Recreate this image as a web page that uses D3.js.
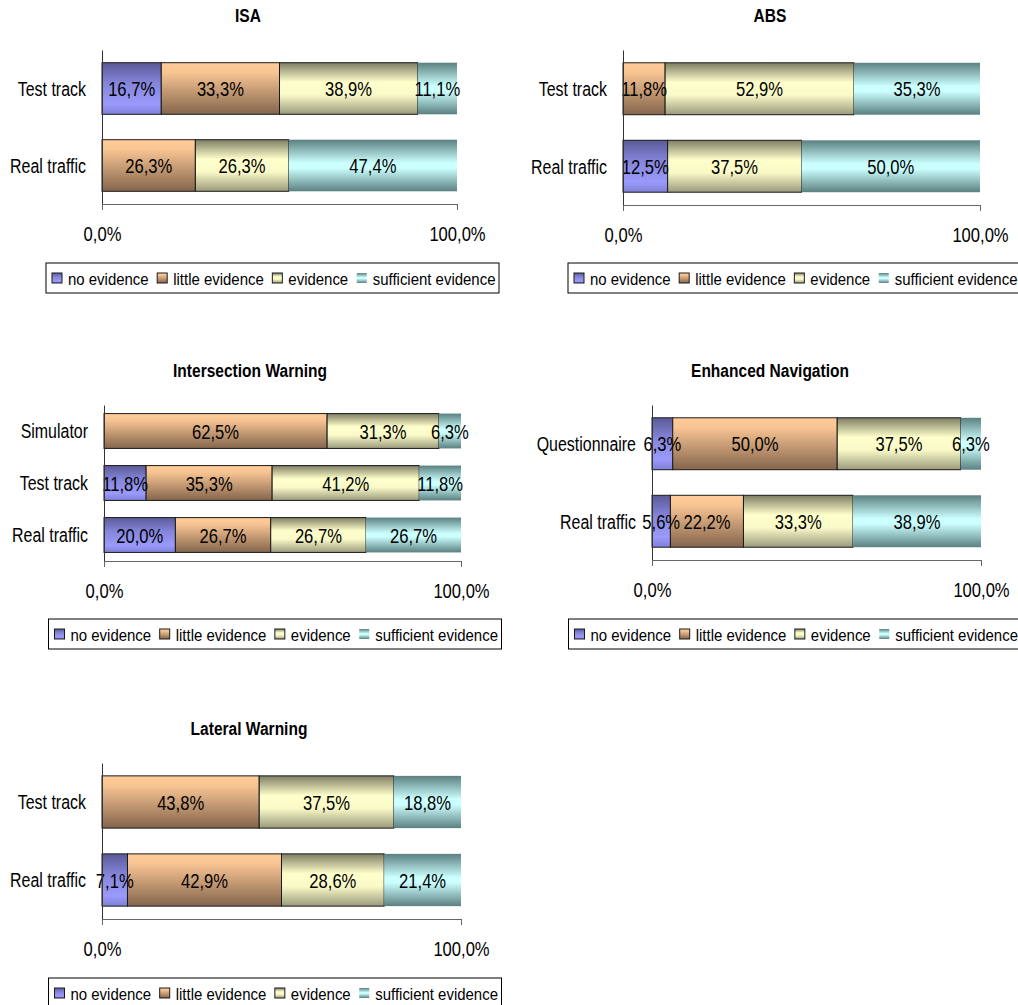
<!DOCTYPE html>
<html>
<head>
<meta charset="utf-8">
<script src="https://cdn.jsdelivr.net/npm/d3@7"></script>
<style>
  body { margin: 0; background: #fff; }
  svg { display: block; }
  text { font-family: Arial, "Liberation Sans", sans-serif; fill: #000; }
</style>
</head>
<body>
<svg id="chart" width="1018" height="1005"></svg>
<script>
// Series (stack order, left to right) and axis ticks
const seriesNames = ["no evidence", "little evidence", "evidence", "sufficient evidence"];
const tickValues = [0, 100];
const tickLabels = ["0,0%", "100,0%"];

// Per-system evidence shares (%), one row per evaluation setting
const isaCategories = ["Test track", "Real traffic"];
const isaValues = [[16.7, 33.3, 38.9, 11.1], [0, 26.3, 26.3, 47.4]];

const absCategories = ["Test track", "Real traffic"];
const absValues = [[0, 11.8, 52.9, 35.3], [12.5, 0, 37.5, 50.0]];

const iwCategories = ["Simulator", "Test track", "Real traffic"];
const iwValues = [[0, 62.5, 31.3, 6.3], [11.8, 35.3, 41.2, 11.8], [20.0, 26.7, 26.7, 26.7]];

const enCategories = ["Questionnaire", "Real traffic"];
const enValues = [[6.3, 50.0, 37.5, 6.3], [5.6, 22.2, 33.3, 38.9]];

const lwCategories = ["Test track", "Real traffic"];
const lwValues = [[0, 43.8, 37.5, 18.8], [7.1, 42.9, 28.6, 21.4]];

// Panel placement on the page
const panels = [
  { title: "ISA", cats: isaCategories, vals: isaValues,
    left: 102, right: 457, top: 50, bottom: 204, titleX: 248, legendX: 46, legendY: 263 },
  { title: "ABS", cats: absCategories, vals: absValues,
    left: 623, right: 980, top: 50, bottom: 205, titleX: 770, legendX: 568, legendY: 263 },
  { title: "Intersection Warning", cats: iwCategories, vals: iwValues,
    left: 104, right: 461, top: 405, bottom: 561, titleX: 250, legendX: 48.5, legendY: 619 },
  { title: "Enhanced Navigation", cats: enCategories, vals: enValues,
    left: 652, right: 981, top: 405, bottom: 560, titleX: 770, legendX: 568.5, legendY: 619 },
  { title: "Lateral Warning", cats: lwCategories, vals: lwValues,
    left: 102, right: 461, top: 763, bottom: 919, titleX: 249, legendX: 48.5, legendY: 978 }
];

// Vertical shading for each series
const gradients = [
  { stops: [[0, "#5a5a98"], [0.4, "#8585da"], [0.8, "#9a9afc"], [1, "#8080d8"]], stroke: "#1a1a1a" },
  { stops: [[0, "#ffcc99"], [0.2, "#f6c392"], [1, "#84654c"]], stroke: "#1a1a1a" },
  { stops: [[0, "#7e7e64"], [0.38, "#ffffcc"], [0.62, "#fafac8"], [1, "#9a9a7c"]], stroke: "#1a1a1a" },
  { stops: [[0, "#5b8080"], [0.45, "#ccffff"], [0.55, "#ccffff"], [1, "#5b8080"]], stroke: "none" }
];

const svg = d3.select("#chart");
const defs = svg.append("defs");
gradients.forEach((g, i) => {
  const lg = defs.append("linearGradient")
    .attr("id", "grad" + i)
    .attr("x1", 0).attr("y1", 0).attr("x2", 0).attr("y2", 1);
  g.stops.forEach(s => lg.append("stop").attr("offset", s[0]).attr("stop-color", s[1]));
});

// Text in this chart is set in a narrow face: draw it compressed horizontally
function squeeze(sel, sx) {
  sel.each(function () {
    const t = d3.select(this);
    const x = +t.attr("x") || 0;
    const y = +t.attr("y") || 0;
    t.attr("x", 0).attr("y", 0)
     .attr("transform", `translate(${x},${y}) scale(${sx},1)`);
  });
}

const fmt = v => d3.format(".1f")(v).replace(".", ",") + "%";
const stack = d3.stack().keys([0, 1, 2, 3]).value((d, k) => d[k]);

panels.forEach(p => {
  const g = svg.append("g");

  const x = d3.scaleLinear().domain([0, 100]).range([p.left, p.right]);
  const y = d3.scaleBand().domain(p.cats).range([p.top, p.bottom])
    .paddingInner(0.33).paddingOuter(0.165);

  // title
  g.append("text")
    .attr("x", p.titleX).attr("y", p.top - 28.5)
    .attr("text-anchor", "middle")
    .style("font-weight", "bold").style("font-size", "18.5px")
    .text(p.title)
    .call(squeeze, 0.84);

  // stacked bars
  const layers = stack(p.vals);
  layers.forEach((layer, si) => {
    layer.forEach((seg, ci) => {
      const v = p.vals[ci][si];
      if (!(v > 0)) return;
      const x0 = x(seg[0]);
      const x1 = x(Math.min(seg[1], 100));
      g.append("rect")
        .attr("x", x0).attr("y", y(p.cats[ci]))
        .attr("width", x1 - x0).attr("height", y.bandwidth())
        .attr("fill", `url(#grad${si})`)
        .attr("stroke", gradients[si].stroke)
        .attr("stroke-width", 1);
    });
  });

  // value labels
  layers.forEach((layer, si) => {
    layer.forEach((seg, ci) => {
      const v = p.vals[ci][si];
      if (!(v > 0)) return;
      g.append("text")
        .attr("x", (x(seg[0]) + x(Math.min(seg[1], 100))) / 2)
        .attr("y", y(p.cats[ci]) + y.bandwidth() / 2 + 7.5)
        .attr("text-anchor", "middle")
        .style("font-size", "21px")
        .text(fmt(v))
        .call(squeeze, 0.79);
    });
  });

  // category axis
  const ya = g.append("g").attr("transform", `translate(${p.left},0)`)
    .call(d3.axisLeft(y).tickSize(0).tickSizeOuter(0).tickPadding(16));
  ya.select(".domain").attr("stroke", "#333");
  ya.selectAll("text").style("font-size", "21px").attr("dy", "0.35em")
    .attr("font-family", null).call(squeeze, 0.76);

  // value axis
  const xa = g.append("g").attr("transform", `translate(0,${p.bottom})`)
    .call(d3.axisBottom(x).tickValues(tickValues)
      .tickFormat((d, i) => tickLabels[i]).tickSize(6).tickPadding(16));
  xa.select(".domain").attr("stroke", "#666");
  xa.selectAll(".tick line").attr("stroke", "#666");
  xa.selectAll("text").style("font-size", "21px").attr("font-family", null)
    .call(squeeze, 0.79);

  // legend
  const lg = g.append("g").attr("transform", `translate(${p.legendX},${p.legendY})`);
  lg.append("rect").attr("x", 0).attr("y", 0).attr("width", 453).attr("height", 30)
    .attr("fill", "#fff").attr("stroke", "#000").attr("stroke-width", 1);
  let cx = 6;
  seriesNames.forEach((name, si) => {
    lg.append("rect").attr("x", cx).attr("y", 10).attr("width", 10).attr("height", 10)
      .attr("fill", `url(#grad${si})`)
      .attr("stroke", gradients[si].stroke === "none" ? "none" : "#1a1a1a");
    const t = lg.append("text").attr("x", cx + 16).attr("y", 21.5)
      .style("font-size", "17px").text(name);
    const w = t.node().getComputedTextLength() * 0.88;
    t.call(squeeze, 0.88);
    cx += 16 + w + 8.5;
  });
});
</script>
</body>
</html>
